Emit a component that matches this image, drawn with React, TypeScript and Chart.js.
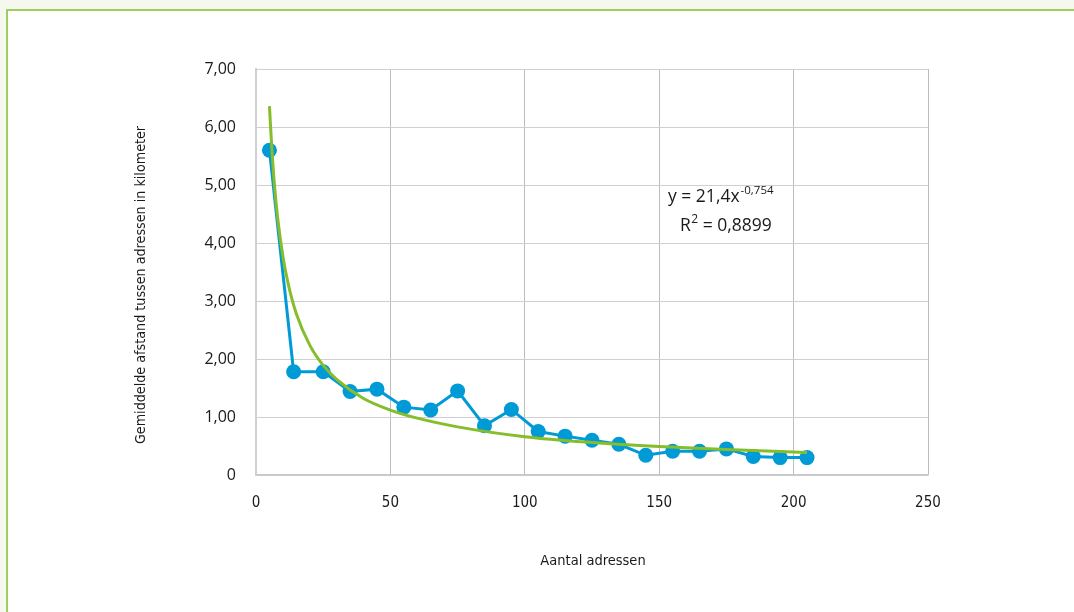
import React, { useEffect, useRef } from "react";
import { Chart, registerables } from "chart.js";

Chart.register(...registerables);

const xValues = [5, 14, 25, 35, 45, 55, 65, 75, 85, 95, 105, 115, 125, 135, 145, 155, 165, 175, 185, 195, 205];
const distances = [5.6, 1.78, 1.78, 1.44, 1.48, 1.17, 1.12, 1.45, 0.85, 1.13, 0.75, 0.67, 0.6, 0.53, 0.34, 0.41, 0.41, 0.45, 0.32, 0.3, 0.3];
const trendX = [5, 6, 7, 8, 10, 12, 15, 20, 25, 30, 40, 50, 60, 75, 100, 125, 150, 175, 205];
const trendY = [6.36, 5.54, 4.93, 4.46, 3.77, 3.29, 2.78, 2.24, 1.89, 1.65, 1.32, 1.12, 0.98, 0.83, 0.66, 0.56, 0.49, 0.44, 0.39];
const yTickValues = [0, 1, 2, 3, 4, 5, 6, 7];
const yTickLabels = ["0", "1,00", "2,00", "3,00", "4,00", "5,00", "6,00", "7,00"];
const xTickLabels = ["0", "50", "100", "150", "200", "250"];
const X_TITLE = "Aantal adressen";
const Y_TITLE = "Gemiddelde afstand tussen adressen in kilometer";
const EQ_MAIN = "y = 21,4x";
const EQ_EXP = "-0,754";
const R_MAIN = "R";
const R_SUP = "2";
const R_REST = " = 0,8899";

const NARROW = '"Liberation Sans Narrow", "DejaVu Sans Condensed", "Roboto Condensed", sans-serif';
const REGULAR = '"Open Sans", "Noto Sans", sans-serif';
const TEXT = "#1a1a1a";
const BLUE = "#009ad6";
const GREEN = "#86bd2b";

const textPlugin = {
  id: "customTexts",
  afterDraw(chart: any) {
    const ctx = chart.ctx as CanvasRenderingContext2D;
    ctx.save();
    ctx.fillStyle = TEXT;
    ctx.font = `14.5px ${NARROW}`;
    ctx.textAlign = "center";
    ctx.textBaseline = "middle";
    ctx.fillText(X_TITLE, 593, 561);
    ctx.save();
    ctx.translate(141, 285);
    ctx.rotate(-Math.PI / 2);
    ctx.font = `14.2px ${NARROW}`;
    ctx.fillText(Y_TITLE, 0, 0);
    ctx.restore();

    ctx.textAlign = "left";
    ctx.textBaseline = "alphabetic";
    ctx.font = `17.5px ${REGULAR}`;
    let x = 668;
    ctx.fillText(EQ_MAIN, x, 202);
    x += ctx.measureText(EQ_MAIN).width;
    ctx.font = `11.5px ${REGULAR}`;
    ctx.fillText(EQ_EXP, x + 1, 194);
    ctx.font = `17.5px ${REGULAR}`;
    x = 680;
    ctx.fillText(R_MAIN, x, 231);
    x += ctx.measureText(R_MAIN).width;
    ctx.font = `12px ${REGULAR}`;
    ctx.fillText(R_SUP, x + 0.5, 223);
    x += ctx.measureText(R_SUP).width + 0.5;
    ctx.font = `17.5px ${REGULAR}`;
    ctx.fillText(R_REST, x, 231);
    ctx.restore();
  },
};

export default function App() {
  const ref = useRef<HTMLCanvasElement | null>(null);

  useEffect(() => {
    if (!ref.current) return;
    const chart = new Chart(ref.current, {
      type: "line",
      data: {
        datasets: [
          {
            label: "Trend",
            data: trendX.map((x, i) => ({ x, y: trendY[i] })),
            borderColor: GREEN,
            borderWidth: 3,
            pointRadius: 0,
            cubicInterpolationMode: "monotone",
            fill: false,
          },
          {
            label: "Gemiddelde afstand",
            data: xValues.map((x, i) => ({ x, y: distances[i] })),
            borderColor: BLUE,
            backgroundColor: BLUE,
            borderWidth: 3,
            pointRadius: 7.5,
            pointBackgroundColor: BLUE,
            pointBorderWidth: 0,
            tension: 0,
            fill: false,
          },
        ],
      },
      options: {
        animation: false,
        responsive: false,
        layout: { padding: { left: 0, top: 69, right: 146, bottom: 0 } },
        plugins: { legend: { display: false }, tooltip: { enabled: false } },
        scales: {
          x: {
            type: "linear",
            min: 0,
            max: 250,
            afterFit: (s: any) => {
              s.height = 137;
            },
            afterBuildTicks: (s: any) => {
              s.ticks = xTickLabels.map((t) => ({ value: Number(t) }));
            },
            ticks: {
              padding: 19,
              color: TEXT,
              font: { family: NARROW, size: 15 },
              callback: (v: any) => xTickLabels.find((t) => Number(t) === v) ?? "",
            },
            grid: { color: "#bcbcbc", lineWidth: 1, drawTicks: false },
            border: { color: "#c8c8c8", width: 1.5 },
          },
          y: {
            type: "linear",
            min: 0,
            max: 7,
            afterFit: (s: any) => {
              s.width = 256;
            },
            afterBuildTicks: (s: any) => {
              s.ticks = yTickValues.map((v) => ({ value: v }));
            },
            ticks: {
              padding: 20,
              color: TEXT,
              font: { family: REGULAR, size: 16 },
              callback: (v: any) => yTickLabels[yTickValues.indexOf(v)] ?? "",
            },
            grid: { color: "#cfcfcf", lineWidth: 1, drawTicks: false },
            border: { color: "#d0d0d0", width: 2 },
          },
        },
      },
      plugins: [textPlugin],
    } as any);
    return () => chart.destroy();
  }, []);

  return (
    <div
      style={{
        position: "fixed",
        left: 0,
        top: 0,
        width: 1074,
        height: 612,
        background: "#f5f8ee",
        overflow: "hidden",
      }}
    >
      <div
        style={{
          position: "absolute",
          left: 6,
          top: 9,
          width: 1200,
          height: 800,
          background: "#ffffff",
          border: "2px solid #9fcf5b",
          boxSizing: "border-box",
        }}
      />
      <canvas ref={ref} width={1074} height={612} style={{ position: "absolute", left: 0, top: 0 }} />
    </div>
  );
}
